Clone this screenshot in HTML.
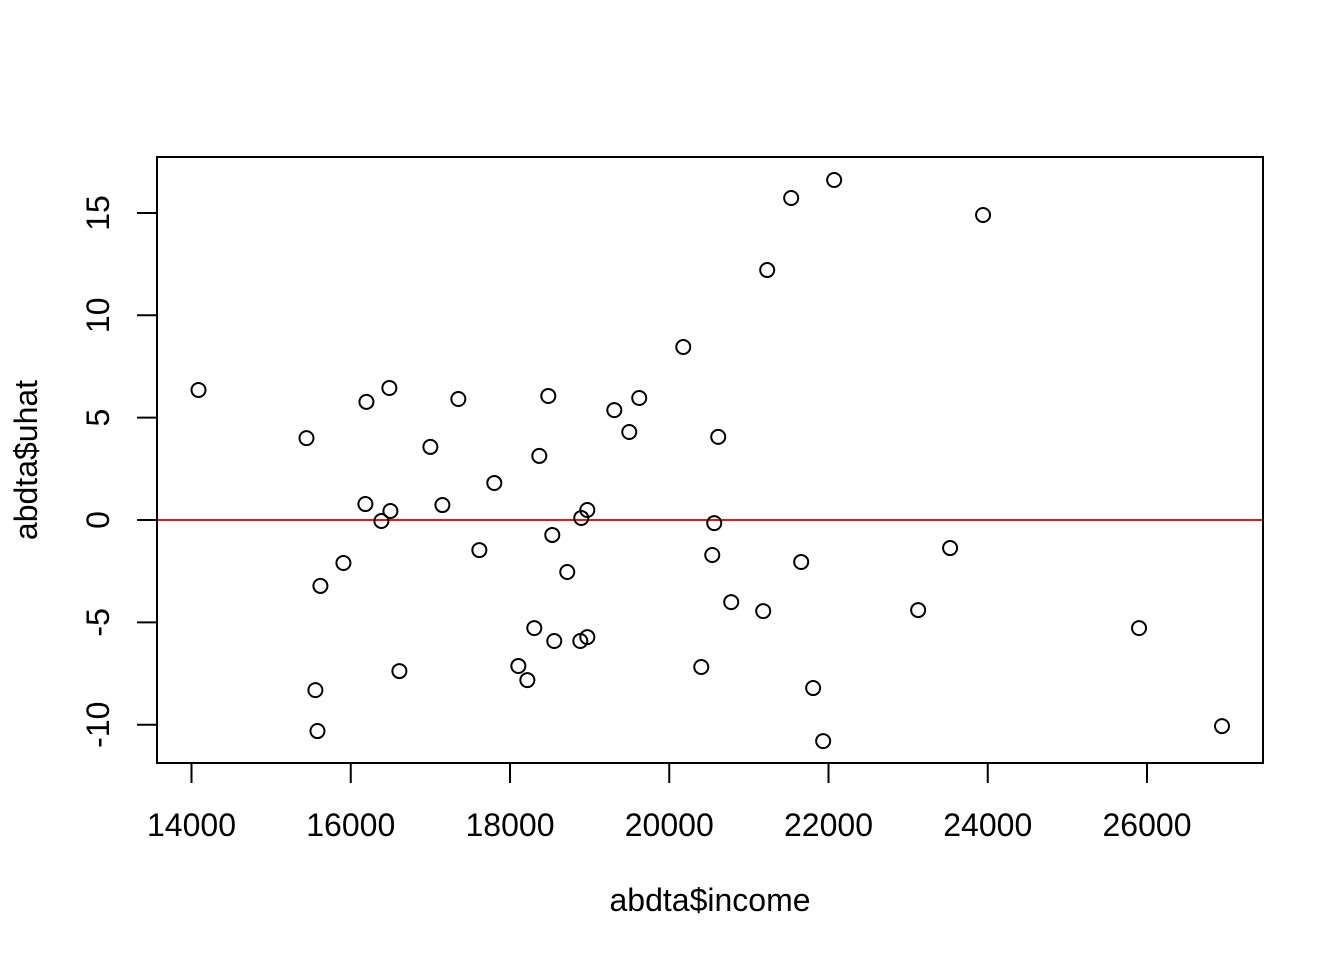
<!DOCTYPE html>
<html><head><meta charset="utf-8"><style>
body{margin:0;background:#fff}
svg{display:block;font-family:"Liberation Sans",Arial,sans-serif}
</style></head><body>
<svg id="chart" width="1344" height="960">
<rect x="157" y="157" width="1106" height="606" fill="none" stroke="#000" stroke-width="2"/>
<g id="axes"></g>
<g id="marks"></g>
<text x="710" y="911" font-size="32" text-anchor="middle">abdta$income</text>
<text transform="translate(37,460) rotate(-90)" font-size="32" text-anchor="middle">abdta$uhat</text>
</svg>
<script>
const xTicks=[14000,16000,18000,20000,22000,24000,26000];
const yTicks=[-10,-5,0,5,10,15];
const incomeValues=[14088,15444,16197,16485,16184,16385,16498,15908,15619,15556,15582,16611,17000,17151,17351,17615,17803,18368,18481,18531,18719,18305,18105,18218,18556,18895,18971,18883,18971,19310,19498,19623,20176,20615,20565,20540,20778,20402,21180,21230,21531,22071,21657,21807,21933,23126,23527,23941,25900,26942];
const uhatValues=[6.35,4.0,5.77,6.45,0.78,-0.05,0.44,-2.1,-3.22,-8.31,-10.31,-7.38,3.57,0.73,5.91,-1.47,1.81,3.13,6.06,-0.73,-2.54,-5.28,-7.13,-7.82,-5.91,0.1,0.49,-5.91,-5.72,5.37,4.3,5.96,8.45,4.06,-0.15,-1.71,-4.01,-7.18,-4.45,12.21,15.73,16.61,-2.05,-8.21,-10.8,-4.4,-1.37,14.9,-5.28,-10.07];
const refLine=[0];
const NS="http://www.w3.org/2000/svg";
function xs(v){return 191.5+(v-14000)*(1147-191.5)/12000;}
function ys(v){return 520-v*20.47;}
function mk(t,a,p){const e=document.createElementNS(NS,t);for(const k in a)e.setAttribute(k,a[k]);p.appendChild(e);return e;}
const ax=document.getElementById('axes'),mg=document.getElementById('marks');
mk('line',{x1:xs(xTicks[0]),x2:xs(xTicks[xTicks.length-1]),y1:763,y2:763,stroke:'#000','stroke-width':2},ax);
xTicks.forEach(v=>{
 const l=mk('line',{x1:xs(v),x2:xs(v),y1:763,y2:783,stroke:'#000','stroke-width':2},ax);
 
 
 const t=mk('text',{x:xs(v),y:836,'font-size':32,'text-anchor':'middle'},ax);t.textContent=v;
 
 
});
yTicks.forEach(v=>{
 const l=mk('line',{x1:137,x2:157,y1:ys(v),y2:ys(v),stroke:'#000','stroke-width':2},ax);
 
 
 const t=mk('text',{'font-size':32,'text-anchor':'middle',transform:`translate(109,${ys(v)}) rotate(-90)`},ax);t.textContent=v;
 
 
});
refLine.forEach(v=>{
 const l=mk('line',{x1:158,x2:1262,y1:ys(v),y2:ys(v),stroke:'#e8141e','stroke-width':2},mg);
 
 
});
incomeValues.forEach((v,i)=>{
 const c=mk('circle',{cx:xs(v),cy:ys(uhatValues[i]),r:7,fill:'none',stroke:'#000','stroke-width':2},mg);
 
 
});
</script>
</body></html>
